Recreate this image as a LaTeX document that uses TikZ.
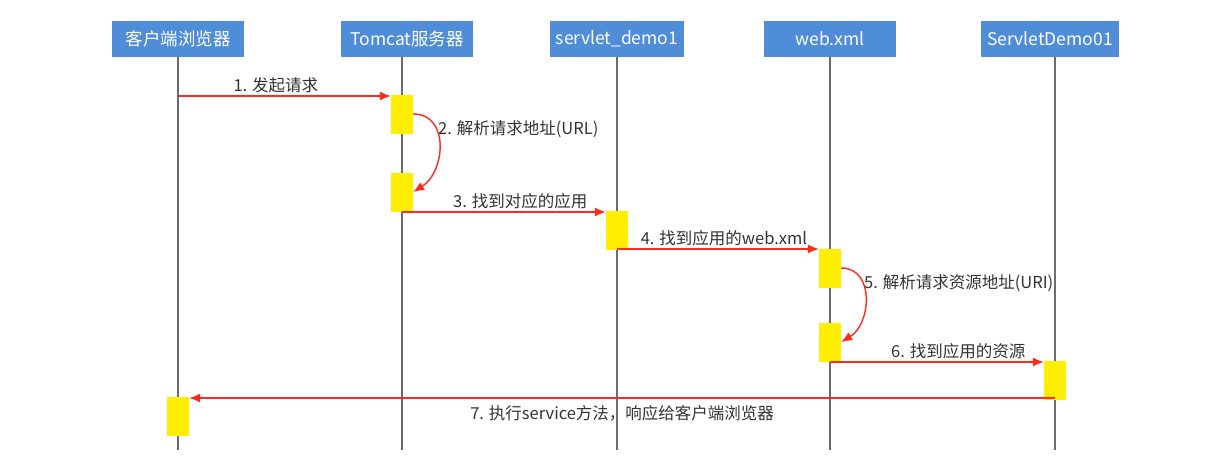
\documentclass[tikz,border=0pt]{standalone}
\usepackage{fontspec}
\setmainfont{Noto Sans CJK SC}
\usepackage{tikz}
\usepackage{xcolor}
\usetikzlibrary{arrows.meta}

\definecolor{headblue}{HTML}{4F8DD9}
\definecolor{actyellow}{HTML}{FFEE00}
\definecolor{msgred}{HTML}{FF2A1A}

\tikzset{
  head/.style={fill=headblue, text=white, minimum width=132pt, minimum height=36pt,
    inner xsep=6pt, font=\fontsize{17.5}{19}\selectfont},
  act/.style={fill=actyellow, minimum width=22pt, minimum height=39pt, inner sep=0pt},
  life/.style={draw=gray!85!black, line width=1.3pt},
  msg/.style={draw=msgred, line width=1.4pt, -{Latex[length=11pt,width=9pt]}},
  lbl/.style={font=\fontsize{16.5}{18}\selectfont, text=black!80, inner sep=2pt}
}

\begin{document}
\begin{tikzpicture}[x=1pt,y=-1pt]
\useasboundingbox (0,0) rectangle (1213,456);
\fill[white] (0,0) rectangle (1213,456);
% lifelines
\draw[life] (178,57) -- (178,450);
\draw[life] (402,57) -- (402,450);
\draw[life] (617,57) -- (617,450);
\draw[life] (830,57) -- (830,450);
\draw[life] (1055,57) -- (1055,450);
% heads
\node[head] (client) at (178,39) {客户端浏览器};
\node[head] (tomcat) at (407,39) {Tomcat服务器};
\node[head] (demo) at (617,39) {servlet\_demo1};
\node[head] (webxml) at (830,39) {web.xml};
\node[head] (servlet) at (1050,39) {ServletDemo01};
% activations
\node[act] (t1) at (402,114) {};
\node[act] (t2) at (402,192) {};
\node[act] (d1) at (617,230) {};
\node[act] (w1) at (830,268) {};
\node[act] (w2) at (830,342) {};
\node[act] (s1) at (1055,380) {};
\node[act] (c1) at (178,416) {};
\coordinate (c0) at (178,96);
\coordinate (t3) at (402,212);
\coordinate (d2) at (617,249);
\coordinate (w3) at (830,362);
\coordinate (s2) at (1055,398);
% messages
\draw[msg] (c0) -- (t1.west |- c0) node[lbl, pos=0.46, above] {1. 发起请求};
\draw[msg] (t1.east) .. controls +(37,0) and +(32,-20) .. (t2.east);
\node[lbl, anchor=west] (l2) at (436,129) {2. 解析请求地址(URL)};
\draw[msg] (t3) -- (d1.west |- t3) node[lbl, pos=0.58, above] {3. 找到对应的应用};
\draw[msg] (d2) -- (w1.west |- d2) node[lbl, pos=0.53, above] {4. 找到应用的web.xml};
\draw[msg] (w1.east) .. controls +(34,0) and +(30,-18) .. (w2.east);
\node[lbl, anchor=west] (l5) at (862,283) {5. 解析请求资源地址(URI)};
\draw[msg] (w3) -- (s1.west |- w3) node[lbl, pos=0.6, above] {6. 找到应用的资源};
\draw[msg] (s2) -- (c1.east |- s2) node[lbl, pos=0.5, below=5pt] {7. 执行service方法，响应给客户端浏览器};
\end{tikzpicture}
\end{document}
